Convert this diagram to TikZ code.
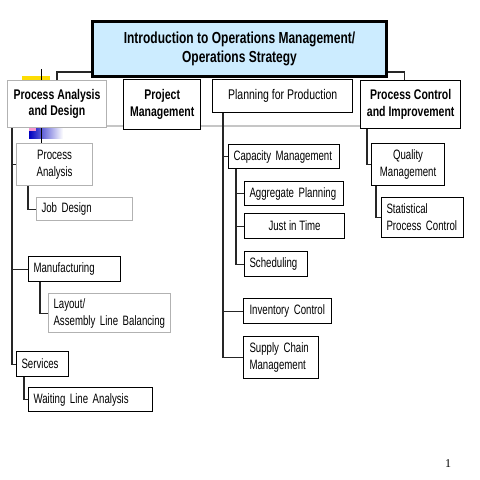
\documentclass[tikz,border=0pt]{standalone}
\usepackage{fontspec}
\setmainfont{Liberation Sans}[FakeStretch=0.75]
\newfontfamily\subfont{Liberation Sans}[FakeStretch=0.71]
\newfontfamily\pagefont{Liberation Serif}
\definecolor{titlefill}{RGB}{204,236,255}
\hyphenpenalty=10000
\exhyphenpenalty=10000
\newcommand{\narrowspace}{\fontdimen2\font=0.21em\fontdimen3\font=0pt\fontdimen4\font=0pt\relax}
\begin{document}
\begin{tikzpicture}[x=1pt,y=-1pt,
  conn/.style={draw=black!85,line width=1.1pt},
  base/.style={draw,fill=white,anchor=north west,inner ysep=0pt},
  titlebox/.style={base,line width=3pt,fill=titlefill,align=center,
     font=\fontsize{16}{19.5}\selectfont\bfseries\narrowspace},
  hdr/.style={base,line width=1.4pt,align=center,font=\fontsize{14}{16.7}\selectfont\narrowspace},
  hdrb/.style={hdr,font=\fontsize{14}{16.7}\selectfont\bfseries\narrowspace},
  sub/.style={base,line width=1.1pt,font=\subfont\fontsize{13.6}{17}\selectfont\narrowspace},
  grayb/.style={draw=black!30},
  lft/.style={align=left,inner xsep=#1},
]
\useasboundingbox (0,0) rectangle (480,480);
% bullet decoration
\fill[yellow!80!orange] (22,76) rectangle (50,100);
\shade[left color=blue!75!black,right color=white] (29,104) rectangle (63,138);
\fill[magenta!40] (29,126) rectangle (36,131);
\draw[line width=1pt] (41,69) -- (41,143);
% gray separator
\draw[gray!45,line width=2.5pt] (106,126) -- (360,126);

% nodes
\node[titlebox,minimum width=294pt,minimum height=55pt] (title) at (91,20)
  {Introduction to Operations Management/\\Operations Strategy};
\node[hdrb,grayb,line width=1pt,minimum width=99pt,minimum height=47pt] (pad) at (7,80)
  {Process Analysis\\and Design};
\node[hdrb,minimum width=77pt,minimum height=50pt] (pm) at (123,79)
  {Project\\Management};
\node[hdr,minimum width=140pt,minimum height=33pt] (ppp) at (212,79)
  {Planning for Production};
\node[hdrb,minimum width=100pt,minimum height=48pt] (pci) at (360,80)
  {Process Control\\and Improvement};

% left column
\node[sub,grayb,align=center,minimum width=76pt,minimum height=42pt] (pa) at (16,143) {Process\\Analysis};
\node[sub,grayb,lft=5pt,text width=86pt,minimum height=23pt] (job) at (36,197) {\mbox{Job Design}};
\node[sub,lft=5pt,text width=82pt,minimum height=25pt] (mfg) at (28,256) {\mbox{Manufacturing}};
\node[sub,grayb,lft=5pt,text width=112pt,minimum height=39pt] (lay) at (48,293) {\mbox{Layout/}\\\mbox{Assembly Line Balancing}};
\node[sub,lft=5pt,text width=42pt,minimum height=25pt] (svc) at (16,351) {\mbox{Services}};
\node[sub,lft=5pt,text width=114pt,minimum height=24pt] (wla) at (28,387) {\mbox{Waiting Line Analysis}};

% middle column
\node[sub,lft=5pt,text width=101pt,minimum height=24pt] (cap) at (228,144) {\mbox{Capacity Management}};
\node[sub,lft=5pt,text width=89pt,minimum height=24pt] (agg) at (244,181) {\mbox{Aggregate Planning}};
\node[sub,align=center,minimum width=100pt,minimum height=25pt] (jit) at (244,213) {Just in Time};
\node[sub,lft=5pt,text width=53pt,minimum height=25pt] (sch) at (244,251) {\mbox{Scheduling}};
\node[sub,lft=6pt,text width=76pt,minimum height=25pt] (inv) at (243,298) {\mbox{Inventory Control}};
\node[sub,lft=6pt,text width=63pt,minimum height=42pt] (scm) at (243,336) {\mbox{Supply Chain}\\\mbox{Management}};

% right column
\node[sub,align=center,minimum width=73pt,minimum height=42pt] (qm) at (371,143) {Quality\\Management};
\node[sub,lft=5pt,text width=72pt,minimum height=40pt] (spc) at (381,197) {\mbox{Statistical}\\\mbox{Process Control}};

% page number
\node[font=\pagefont\fontsize{12}{14}\selectfont] (pg) at (448,464) {1};

% connectors
\coordinate (ls) at (12,0);
\coordinate (ms) at (223,0);
\coordinate (cs) at (236,0);
\coordinate (rs) at (367,0);
\draw[conn] (pad.north) |- ([yshift=6pt]title.south west);
\draw[conn] ([xshift=-6pt]pci.north) |- ([yshift=6pt]title.south east);

\draw[conn] (pad.south -| ls) |- (svc.west);
\draw[conn] (ls |- pa.west) -- (pa.west);
\draw[conn] (ls |- mfg.west) -- (mfg.west);
\draw[conn] ([xshift=-8pt]job.west |- pa.south) |- (job.west);
\draw[conn] ([xshift=-8pt]lay.west |- mfg.south) |- (lay.west);
\draw[conn] ([xshift=-4pt]wla.west |- svc.south) |- (wla.west);

\draw[conn] (ppp.south -| ms) |- (scm.west);
\draw[conn] (ms |- cap.west) -- (cap.west);
\draw[conn] (ms |- inv.west) -- (inv.west);
\draw[conn] (cap.south -| cs) |- (sch.west);
\draw[conn] (cs |- agg.west) -- (agg.west);
\draw[conn] (cs |- jit.west) -- (jit.west);

\draw[conn] (pci.south -| rs) |- (qm.west);
\draw[conn] ([xshift=-5pt]spc.west |- qm.south) |- (spc.west);
\end{tikzpicture}
\end{document}
